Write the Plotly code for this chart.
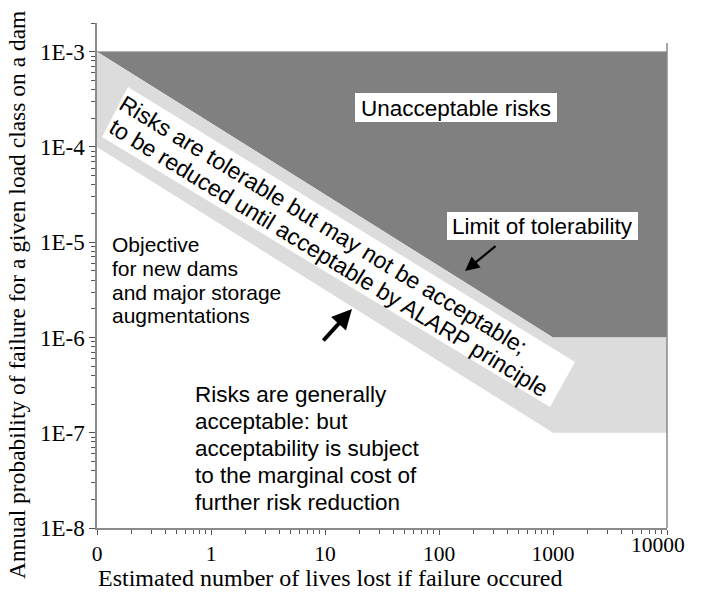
import plotly.graph_objects as go

# Risk zones for dam safety (ANCOLD-style societal risk chart)
lives = [0.1, 1000, 10000]                 # estimated lives lost (0 plotted at 0.1)
limit_of_tolerability = [1e-3, 1e-6, 1e-6]  # upper boundary of tolerable zone
objective_new_dams = [1e-4, 1e-7, 1e-7]     # objective for new dams / augmentations
upper_probability = 1e-3

x_tick_vals = [0.1, 1, 10, 100, 1000, 10000]
x_tick_text = ["0", "1", "10", "100", "1000", ""]
y_tick_vals = [1e-8, 1e-7, 1e-6, 1e-5, 1e-4, 1e-3]
y_tick_text = ["1E-8", "1E-7", "1E-6", "1E-5", "1E-4", "1E-3"]

W, H = 702, 592
L, R, T, B = 97, 35, 23, 64
PW, PH = W - L - R, H - T - B


def px(x):
    return (x - L) / PW


def py(y):
    return (H - B - y) / PH


def poly(points):
    # closed path in paper coordinates from pixel corner points
    parts = [f"{px(x):.5f},{py(y):.5f}" for x, y in points]
    return "M " + " L ".join(parts) + " Z"


minor_x = [k * 10.0 ** e for e in range(-1, 4) for k in range(2, 10)]
minor_y = [k * 10.0 ** e for e in range(-8, -2) for k in range(2, 10)]

fig = go.Figure()

# unacceptable zone
fig.add_trace(go.Scatter(
    x=[lives[0]] + lives[1:] + [lives[-1], lives[0]],
    y=[limit_of_tolerability[0]] + limit_of_tolerability[1:] + [upper_probability, upper_probability],
    fill="toself", fillcolor="#808080", mode="lines",
    line=dict(width=0), hoverinfo="skip", showlegend=False))

# tolerable (ALARP) band
fig.add_trace(go.Scatter(
    x=lives + lives[::-1] + [lives[0]],
    y=limit_of_tolerability + objective_new_dams[::-1] + [limit_of_tolerability[0]],
    fill="toself", fillcolor="#dcdcdc", mode="lines",
    line=dict(width=0), hoverinfo="skip", showlegend=False))

# top edge of the unacceptable zone
fig.add_trace(go.Scatter(
    x=[lives[0], lives[-1]], y=[upper_probability, upper_probability],
    mode="lines", line=dict(color="#a8a8a8", width=1),
    hoverinfo="skip", showlegend=False))

sans = "Arial, Liberation Sans, Helvetica, sans-serif"
serif = "Liberation Serif, Times New Roman, serif"

shapes = [
    # right-hand frame line, stopping a little below the top of the left axis
    dict(type="line", xref="paper", yref="paper", x0=1, x1=1, y0=0, y1=py(43),
         line=dict(color="#8a8a8a", width=1.5), layer="above"),
    # white label boxes
    dict(type="rect", xref="paper", yref="paper",
         x0=px(355), x1=px(557), y0=py(122), y1=py(93),
         fillcolor="white", line=dict(width=0), layer="above"),
    dict(type="rect", xref="paper", yref="paper",
         x0=px(447), x1=px(638), y0=py(240), y1=py(212),
         fillcolor="white", line=dict(width=0), layer="above"),
    dict(type="path", xref="paper", yref="paper",
         path=poly([(128, 87), (575, 362), (550, 407), (102, 137)]),
         fillcolor="white", line=dict(width=0), layer="above"),
]


def text_line(x, y, s, size, anchor="center", angle=0, family=sans):
    return dict(xref="paper", yref="paper", x=px(x), y=py(y),
                xanchor=anchor, yanchor="middle", text=s, showarrow=False,
                textangle=angle, font=dict(family=family, size=size, color="black"))


ann = []
ann.append(text_line(456, 108, "Unacceptable risks", 22.5))
ann.append(text_line(542.5, 226.5, "Limit of tolerability", 22.5))

# ALARP band text, rotated along the band
ann.append(text_line(323.5, 224.5, "Risks are tolerable but may not be acceptable;", 23, angle=31.5))
ann.append(text_line(329, 258, "to be reduced until acceptable by ALARP principle", 23, angle=31.5))

objective_lines = ["Objective", "for new dams", "and major storage", "augmentations"]
for i, line in enumerate(objective_lines):
    ann.append(text_line(110, 245 + 23.5 * i, line, 21, anchor="left"))

acceptable_lines = ["Risks are generally", "acceptable: but", "acceptability is subject",
                    "to the marginal cost of", "further risk reduction"]
for i, line in enumerate(acceptable_lines):
    ann.append(text_line(193, 394 + 27 * i, line, 22.5, anchor="left"))

# arrows
ann.append(dict(xref="paper", yref="paper", x=px(465), y=py(271), ax=32, ay=-26,
                text="", showarrow=True, arrowhead=2, arrowsize=1.3,
                arrowwidth=2.2, arrowcolor="black"))
ann.append(dict(xref="paper", yref="paper", x=px(352), y=py(309), ax=-30, ay=33,
                text="", showarrow=True, arrowhead=2, arrowsize=1.0,
                arrowwidth=4, arrowcolor="black"))

# last x tick label sits slightly raised and inside the axis end
ann.append(text_line(658, 545, "10000", 21.5, family=serif))

# axis titles
ann.append(text_line(96, 577.5, "Estimated number of lives lost if failure occured", 24,
                     anchor="left", family=serif))
ann.append(text_line(17, 295, "Annual probability of failure for a given load class on a dam",
                     23.5, angle=-90, family=serif))

axis_common = dict(showgrid=False, zeroline=False, showline=True,
                   linecolor="#8a8a8a", linewidth=1.5, ticks="outside",
                   tickcolor="#555555", tickwidth=1)

fig.update_layout(
    width=W, height=H,
    margin=dict(l=L, r=R, t=T, b=B, autoexpand=False),
    paper_bgcolor="white", plot_bgcolor="white",
    showlegend=False,
    shapes=shapes,
    annotations=ann,
    xaxis=dict(type="log", range=[-1, 4], tickmode="array",
               tickvals=x_tick_vals, ticktext=x_tick_text, ticklen=5,
               tickfont=dict(family=serif, size=21.5, color="black"),
               minor=dict(tickmode="array", tickvals=minor_x, ticks="outside",
                          ticklen=4, tickcolor="#555555", showgrid=False),
               **axis_common),
    yaxis=dict(type="log", range=[-8, -2.699], tickmode="array",
               tickvals=y_tick_vals, ticktext=y_tick_text, ticklen=6,
               tickfont=dict(family=serif, size=23, color="black"),
               minor=dict(tickmode="array", tickvals=minor_y, ticks="outside",
                          ticklen=4, tickcolor="#555555", showgrid=False),
               **axis_common),
)

fig.write_html("out.html")
